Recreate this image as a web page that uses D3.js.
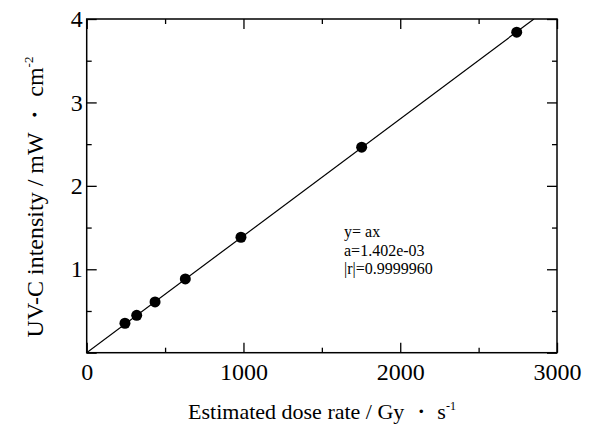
<!DOCTYPE html>
<html>
<head>
<meta charset="utf-8">
<script src="https://cdn.jsdelivr.net/npm/d3@7"></script>
<style>
  html, body { margin: 0; padding: 0; background: #fff; }
  svg { display: block; font-family: "Liberation Serif", "Times New Roman", serif; }
</style>
</head>
<body>
<svg id="chart" width="592" height="426"></svg>
<script>
// Measured points: estimated dose rate (Gy/s) vs UV-C intensity (mW/cm^2)
const doseRate = [244, 319, 436, 629, 984, 1754, 2743];
const uvcIntensity = [0.353, 0.448, 0.608, 0.884, 1.384, 2.463, 3.842];

// Fitted proportional model y = a x
const slopeA = 1.402e-3;
const fitText = ["y= ax", "a=1.402e-03", "|r|=0.9999960"];

const xMajorTicks = [0, 1000, 2000, 3000];
const xMinorTicks = [500, 1500, 2500];
const yMajorTicks = [0, 1, 2, 3, 4];
const yMinorTicks = [0.5, 1.5, 2.5, 3.5];

const svg = d3.select("#chart");
const W = 592, H = 426;
const m = { left: 86.7, right: W - 557, top: 19, bottom: H - 352.7 };

const x = d3.scaleLinear().domain([0, 3000]).range([m.left, W - m.right]);
const y = d3.scaleLinear().domain([0, 4]).range([H - m.bottom, m.top]);

const FS = 24;

function styleAxis(g) {
  g.select(".domain").remove();
  g.selectAll("line").attr("stroke", "#000").attr("stroke-width", 1.3);
  g.selectAll("text").attr("fill", "#000").style("font-size", FS + "px")
    .style("font-family", '"Liberation Serif", serif');
}

// bottom axis: major with labels, minor ticks
svg.append("g").attr("transform", `translate(0,${y(0)})`)
  .call(d3.axisBottom(x).tickValues(xMajorTicks).tickSize(-10).tickPadding(10).tickFormat(d3.format("d")))
  .call(styleAxis);
svg.append("g").attr("transform", `translate(0,${y(0)})`)
  .call(d3.axisBottom(x).tickValues(xMinorTicks).tickSize(-5).tickFormat(""))
  .call(styleAxis);
// top axis (ticks only)
svg.append("g").attr("transform", `translate(0,${y(4)})`)
  .call(d3.axisTop(x).tickValues(xMajorTicks).tickSize(-10).tickFormat(""))
  .call(styleAxis);
svg.append("g").attr("transform", `translate(0,${y(4)})`)
  .call(d3.axisTop(x).tickValues(xMinorTicks).tickSize(-5).tickFormat(""))
  .call(styleAxis);

// left axis
svg.append("g").attr("transform", `translate(${x(0)},0)`)
  .call(d3.axisLeft(y).tickValues(yMajorTicks).tickSize(-10).tickPadding(4).tickFormat(d => d === 0 ? "" : d3.format("d")(d)))
  .call(styleAxis);
svg.append("g").attr("transform", `translate(${x(0)},0)`)
  .call(d3.axisLeft(y).tickValues(yMinorTicks).tickSize(-5).tickFormat(""))
  .call(styleAxis);
// right axis (ticks only)
svg.append("g").attr("transform", `translate(${x(3000)},0)`)
  .call(d3.axisRight(y).tickValues(yMajorTicks).tickSize(-10).tickFormat(""))
  .call(styleAxis);
svg.append("g").attr("transform", `translate(${x(3000)},0)`)
  .call(d3.axisRight(y).tickValues(yMinorTicks).tickSize(-5).tickFormat(""))
  .call(styleAxis);

// plot frame
svg.append("rect")
  .attr("x", x(0)).attr("y", y(4))
  .attr("width", x(3000) - x(0)).attr("height", y(0) - y(4))
  .attr("fill", "none").attr("stroke", "#000").attr("stroke-width", 1.5);

// regression line, clipped to the plot area
svg.append("clipPath").attr("id", "plotClip").append("rect")
  .attr("x", x(0)).attr("y", y(4))
  .attr("width", x(3000) - x(0)).attr("height", y(0) - y(4));
const xEnd = 4 / slopeA;
svg.append("line")
  .attr("clip-path", "url(#plotClip)")
  .attr("x1", x(0)).attr("y1", y(0))
  .attr("x2", x(xEnd)).attr("y2", y(slopeA * xEnd))
  .attr("stroke", "#000").attr("stroke-width", 1.2);

// data points
svg.append("g").selectAll("circle")
  .data(doseRate.map((d, i) => [d, uvcIntensity[i]]))
  .join("circle")
  .attr("cx", d => x(d[0])).attr("cy", d => y(d[1]))
  .attr("r", 5.5).attr("fill", "#000");

// fit annotation, one text element per line
svg.append("g").selectAll("text")
  .data(fitText)
  .join("text")
  .attr("x", 344).attr("y", (d, i) => 237 + i * 18.5)
  .style("font-size", "16px").attr("fill", "#000")
  .text(d => d);

// x axis title
const xt = svg.append("text")
  .attr("x", 322).attr("y", 419)
  .attr("text-anchor", "middle")
  .style("font-size", "22px").attr("fill", "#000");
xt.append("tspan").text("Estimated dose rate / Gy \u30FB s");
xt.append("tspan").attr("dy", -9).style("font-size", "12px").text("-1");

// y axis title
const yt = svg.append("text")
  .attr("transform", `translate(43,197) rotate(-90)`)
  .attr("text-anchor", "middle")
  .style("font-size", "24px").attr("fill", "#000");
yt.append("tspan").text("UV-C intensity / mW \u30FB cm");
yt.append("tspan").attr("dy", -10).style("font-size", "13px").text("-2");
</script>
</body>
</html>
